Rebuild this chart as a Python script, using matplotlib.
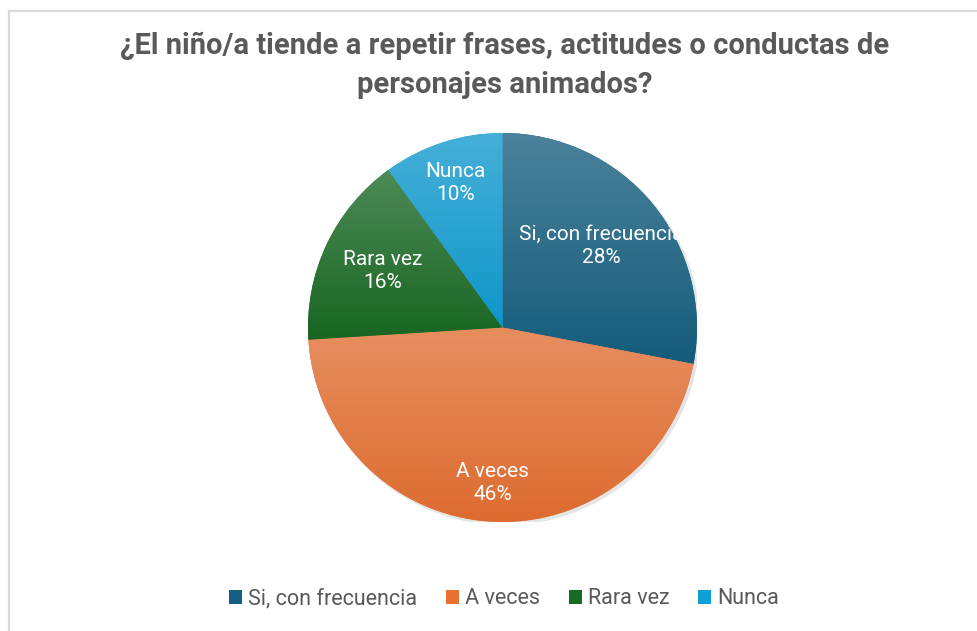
import matplotlib

matplotlib.use("Agg")
import matplotlib.pyplot as plt
import numpy as np
from matplotlib.colors import to_rgb
from matplotlib.lines import Line2D
from matplotlib.patches import Patch

# ── data ──────────────────────────────────────────────────────────────
categories = ["Si, con frecuencia", "A veces", "Rara vez", "Nunca"]
values = [28, 46, 16, 10]
colors = ["#156082", "#E97132", "#196B24", "#0F9ED5"]
title = "¿El niño/a tiende a repetir frases, actitudes o conductas de\npersonajes animados?"

# label distance (fraction of radius) per slice, as Excel placed them
label_r = [0.66, 0.80, 0.68, 0.78]

plt.rcParams["font.family"] = ["Roboto", "DejaVu Sans"]

W, H = 977, 631
fig = plt.figure(figsize=(W / 100, H / 100), dpi=100)
fig.patch.set_facecolor("white")

# chart frame (top + left edge visible)
fig.add_artist(Line2D([9 / W, 1], [1 - 11 / H, 1 - 11 / H], color="#d9d9d9", lw=1.6))
fig.add_artist(Line2D([9 / W, 9 / W], [0, 1 - 11 / H], color="#d9d9d9", lw=1.6))

cx, cy, r = 502.5, 327.5, 194.5
ax = fig.add_axes([(cx - r) / W, (H - cy - r) / H, 2 * r / W, 2 * r / H])
ax.axis("off")

# soft shadow
ax.add_patch(plt.Circle((0.012, -0.012), 1.005, color="#000000", alpha=0.10, zorder=0, lw=0))

wedges, _ = ax.pie(values, colors=colors, startangle=90, counterclock=False,
                   radius=1, wedgeprops=dict(linewidth=0))


def _mix(c, other, t):
    c = np.array(to_rgb(c))
    return c * (1 - t) + np.array(other) * t


# vertical gradient per slice: lighter on top, a touch darker at the bottom
for w, c in zip(wedges, colors):
    ext = w.get_path().get_extents()
    top = _mix(_mix(c, (0.5, 0.5, 0.5), 0.08), (1, 1, 1), 0.2)
    bot = _mix(c, (0, 0, 0), 0.05)
    t = np.linspace(0, 1, 256)[:, None]
    grad = top[None, :] * (1 - t) + bot[None, :] * t
    img = ax.imshow(grad[:, None, :], extent=[ext.x0, ext.x1, ext.y0, ext.y1],
                    aspect="auto", origin="upper", zorder=w.get_zorder() + 0.1,
                    interpolation="bilinear")
    img.set_clip_path(w)
ax.set_xlim(-1, 1)
ax.set_ylim(-1, 1)

for w, cat, v, lr in zip(wedges, categories, values, label_r):
    ang = np.deg2rad((w.theta1 + w.theta2) / 2)
    x, y = lr * np.cos(ang), lr * np.sin(ang)
    txt = ax.text(x, y, f"{cat}\n{v}%", ha="center", va="center", color="white",
                  fontsize=15, linespacing=1.3, zorder=5)
    txt.set_clip_path(w)

fig.text(505 / W, 1 - 65 / H, title, ha="center", va="center", fontsize=21,
         fontweight="bold", color="#595959", linespacing=1.5)

handles = [Patch(facecolor=c, edgecolor="none") for c in colors]
fig.legend(handles, categories, loc="center", bbox_to_anchor=(504 / W, 1 - 599 / H),
           ncol=4, frameon=False, fontsize=15.5, labelcolor="#595959",
           handlelength=0.6, handleheight=0.6, handletextpad=0.28, columnspacing=1.35)

fig.savefig("out.png", dpi=100, facecolor="white")
